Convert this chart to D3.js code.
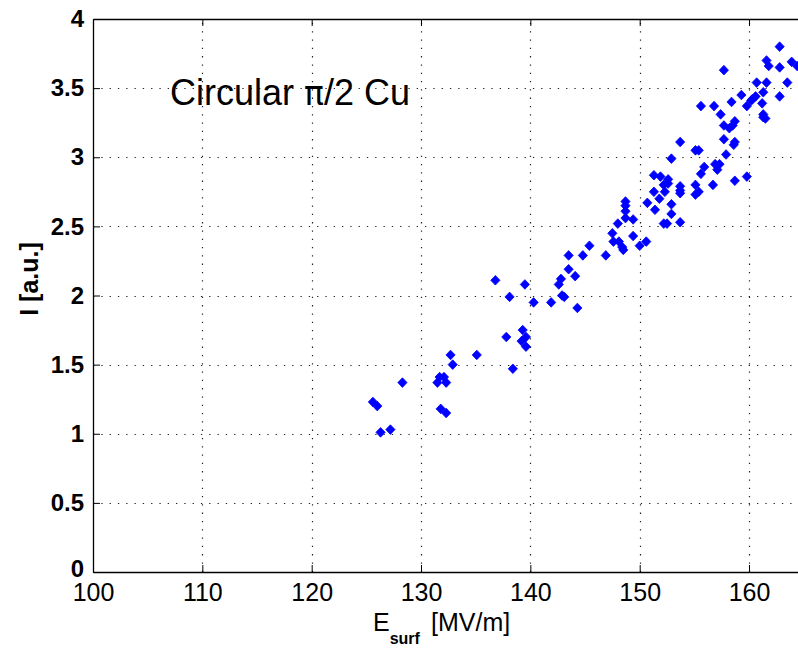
<!DOCTYPE html>
<html>
<head>
	<meta charset='utf-8'>
	<script src="https://cdnjs.cloudflare.com/ajax/libs/d3/7.8.5/d3.min.js" charset="utf-8"></script>
	<style>
	body {
		margin:0;
		background:#fff;
		font-family:"Liberation Sans", Arial, sans-serif;
		overflow:hidden;
	}
	</style>
</head>
<body>
	<script>

	// surface field [MV/m] and current I [a.u.]
	var esurf = [125.6,126.0,126.3,127.2,128.3,
		131.5,131.7,132.1,132.3,131.8,132.3,
		132.7,132.9,135.1,
		136.8,137.8,138.1,138.4,139.2,139.3,139.6,139.6,139.5,
		140.3,141.9,142.8,142.6,142.9,143.1,144.3,143.5,144.1,
		143.5,144.8,145.4,146.9,
		147.5,147.6,148.1,148.4,148.5,148.0,
		148.7,148.7,148.7,148.7,149.4,149.4,150.0,150.6,
		150.7,151.4,151.8,151.3,152.3,151.3,151.9,152.6,152.2,152.6,
		152.2,152.5,152.9,152.9,153.7,153.7,153.7,153.7,152.9,153.7,
		155.1,155.4,155.1,155.1,155.4,155.6,155.9,156.7,156.9,157.3,157.1,
		155.6,156.8,157.4,157.7,158.2,158.5,158.7,157.7,158.7,158.6,157.9,
		157.7,158.4,158.7,159.8,159.3,159.8,160.6,160.3,160.2,
		160.7,161.6,161.3,161.2,161.3,161.5,161.3,
		161.6,161.8,162.8,162.8,162.8,163.5,163.9,164.4];

	var current = [1.23,1.20,1.01,1.03,1.37,
		1.37,1.41,1.41,1.37,1.18,1.15,
		1.57,1.50,1.57,
		2.11,1.70,1.99,1.47,1.67,1.75,1.70,1.63,2.08,
		1.95,1.95,2.12,2.08,2.00,1.99,1.91,2.19,2.14,
		2.29,2.29,2.36,2.29,
		2.45,2.39,2.39,2.35,2.33,2.52,
		2.68,2.65,2.61,2.56,2.55,2.43,2.36,2.39,
		2.67,2.62,2.70,2.75,2.75,2.87,2.86,2.84,2.80,2.81,
		2.52,2.52,2.66,2.59,2.53,2.79,2.76,2.74,2.99,3.11,
		3.05,3.05,2.80,2.73,2.75,2.88,2.93,2.80,2.95,2.95,2.91,
		3.37,3.37,3.31,3.23,3.21,3.23,3.26,3.13,3.11,3.09,3.02,
		3.63,3.40,2.83,2.86,3.45,3.37,3.44,3.42,3.41,
		3.54,3.54,3.47,3.39,3.31,3.28,3.29,
		3.70,3.66,3.80,3.65,3.44,3.54,3.69,3.66];

	var xTicks = [100,110,120,130,140,150,160],
		yTicks = [0,0.5,1,1.5,2,2.5,3,3.5,4],
		yTickLabels = ['0','0.5','1','1.5','2','2.5','3','3.5','4'];

	var canvasWidth = 798,
		canvasHeight = 650;

	var margin = {top:19, left:93, bottom:78};
	var plotWidth = 710.7,   // axis runs past the right edge of the picture
		plotHeight = canvasHeight - margin.top - margin.bottom;

	var dotColor = '#0000ff';

	var svg = d3.select('body').append('svg')
		.attr('width', canvasWidth).attr('height', canvasHeight);

	var chart = svg.append('g')
		.attr('transform', 'translate(' + margin.left + ',' + margin.top + ')');

	var x = d3.scaleLinear().domain([100,165]).range([0, plotWidth]);
	var y = d3.scaleLinear().domain([0,4]).range([plotHeight, 0]);

	// dotted grid
	chart.append('g').selectAll('line').data(xTicks.slice(1)).enter().append('line')
		.attr('x1', function (d) { return Math.round(x(d)) + 0.5; })
		.attr('x2', function (d) { return Math.round(x(d)) + 0.5; })
		.attr('y1', plotHeight).attr('y2', 0)
		.attr('stroke', '#222').attr('stroke-width', 1.2)
		.attr('stroke-dasharray', '1.3,7');
	chart.append('g').selectAll('line').data(yTicks.slice(1, -1)).enter().append('line')
		.attr('y1', function (d) { return Math.round(y(d)) + 0.5; })
		.attr('y2', function (d) { return Math.round(y(d)) + 0.5; })
		.attr('x1', 0).attr('x2', plotWidth)
		.attr('stroke', '#222').attr('stroke-width', 1.2)
		.attr('stroke-dasharray', '1.3,7');

	// axes, ticks pointing inward
	var xAxis = chart.append('g')
		.attr('transform', 'translate(0,' + plotHeight + ')')
		.call(d3.axisBottom(x).tickValues(xTicks).tickSizeInner(-7).tickSizeOuter(0).tickPadding(11));
	xAxis.selectAll('text').style('font-size', '25px').attr('fill', '#000');

	chart.append('g')
		.call(d3.axisTop(x).tickValues(xTicks).tickSizeInner(-7).tickSizeOuter(0).tickFormat(''));

	var yAxis = chart.append('g')
		.call(d3.axisLeft(y).tickValues(yTicks).tickSizeInner(-7).tickSizeOuter(0).tickPadding(9)
			.tickFormat(function (d, i) { return yTickLabels[i]; }));
	yAxis.selectAll('text').style('font-size', '24px').style('font-weight', 'bold').attr('fill', '#000');
	// the zero label sits a little higher, as in the original
	yAxis.selectAll('text').filter(function (d) { return d === 0; }).attr('dy', '0.2em');

	chart.selectAll('.domain').attr('stroke', '#000').attr('stroke-width', 1.3);
	chart.selectAll('.tick line').attr('stroke', '#000');
	chart.selectAll('text').style('font-family', '"Liberation Sans", Arial, sans-serif');

	// blue diamonds
	var diamond = 'M0,-4.8L4.6,0L0,4.8L-4.6,0Z';
	chart.append('g').selectAll('path').data(esurf).enter().append('path')
		.attr('d', diamond)
		.attr('transform', function (d, i) { return 'translate(' + x(d) + ',' + y(current[i]) + ')'; })
		.attr('fill', dotColor)
		.attr('stroke', dotColor)
		.attr('stroke-width', 0.8);

	// labels
	var title = svg.append('text')
		.attr('x', 170).attr('y', 105)
		.style('font-size', '36px');
	title.append('tspan').text('Circular ');
	title.append('tspan').style('font-family', '"DejaVu Sans", sans-serif').style('font-size', '33px').text('\u03c0');
	title.append('tspan').text('/2 Cu');

	var xLabel = svg.append('text')
		.attr('x', 373).attr('y', 631)
		.style('font-size', '25px');
	xLabel.append('tspan').text('E');
	xLabel.append('tspan').attr('dy', 13).style('font-size', '16px').style('font-weight', 'bold').text('surf');
	xLabel.append('tspan').attr('dy', -13).attr('x', 431).text('[MV/m]');

	svg.append('text')
		.attr('transform', 'translate(38,279) rotate(-90)')
		.attr('text-anchor', 'middle')
		.style('font-size', '25px')
		.style('font-weight', 'bold')
		.text('I [a.u.]');

	</script>
</body>
</html>
